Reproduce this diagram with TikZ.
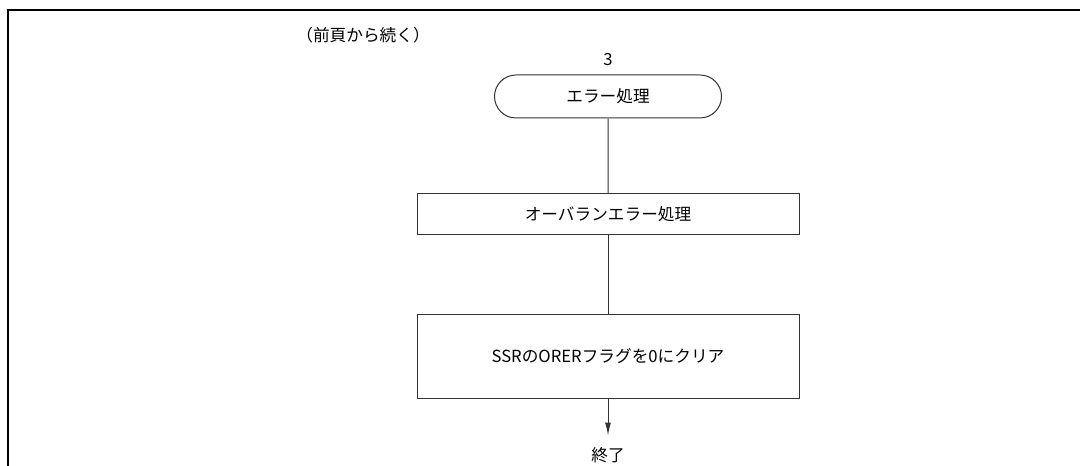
\documentclass[tikz,border=0pt]{standalone}
\usepackage{fontspec}
\setmainfont{Noto Sans CJK JP}
\usetikzlibrary{arrows.meta,positioning,shapes.misc}
\tikzset{
  term/.style={draw=black!80, line width=0.75pt, rounded rectangle, align=center, minimum width=176.25pt, minimum height=32.25pt, inner sep=3pt, font=\fontsize{12.5pt}{14pt}\selectfont},
  proc/.style={draw=black!80, line width=0.75pt, align=center, minimum width=286.5pt, minimum height=30.75pt, inner sep=3pt, font=\fontsize{12.5pt}{14pt}\selectfont},
  note/.style={inner sep=0pt, font=\fontsize{12.5pt}{14pt}\selectfont},
  line/.style={draw=black!80, line width=0.75pt},
  arrow/.style={-{Latex[length=9.75pt, width=4.5pt]}, draw=black!80, line width=0.75pt},
  frameline/.style={line width=1.5pt}
}
\begin{document}
\begin{tikzpicture}[x=0.75pt, y=-0.75pt]
  \useasboundingbox (0,0) rectangle (1080,466);
  \draw[frameline] (8,466) -- (8,10) -- (1080,10);
  \node[note] (cont) at (363,35) {（前頁から続く）};
  \node[term] (err) at (608,96.5) {エラー処理};
  \node[note, above=6.5pt of err] (conn) {3};
  \node[proc, below=56.25pt of err] (ovr) {オーバランエラー処理};
  \node[proc, minimum height=63pt, below=58.5pt of ovr] (clr) {SSRのORERフラグを0にクリア};
  \node[note, inner sep=8.5pt, below=27.75pt of clr] (fin) {終了};
  \draw[line] (err) -- (ovr);
  \draw[line] (ovr) -- (clr);
  \draw[arrow] (clr) -- (fin);
\end{tikzpicture}
\end{document}
